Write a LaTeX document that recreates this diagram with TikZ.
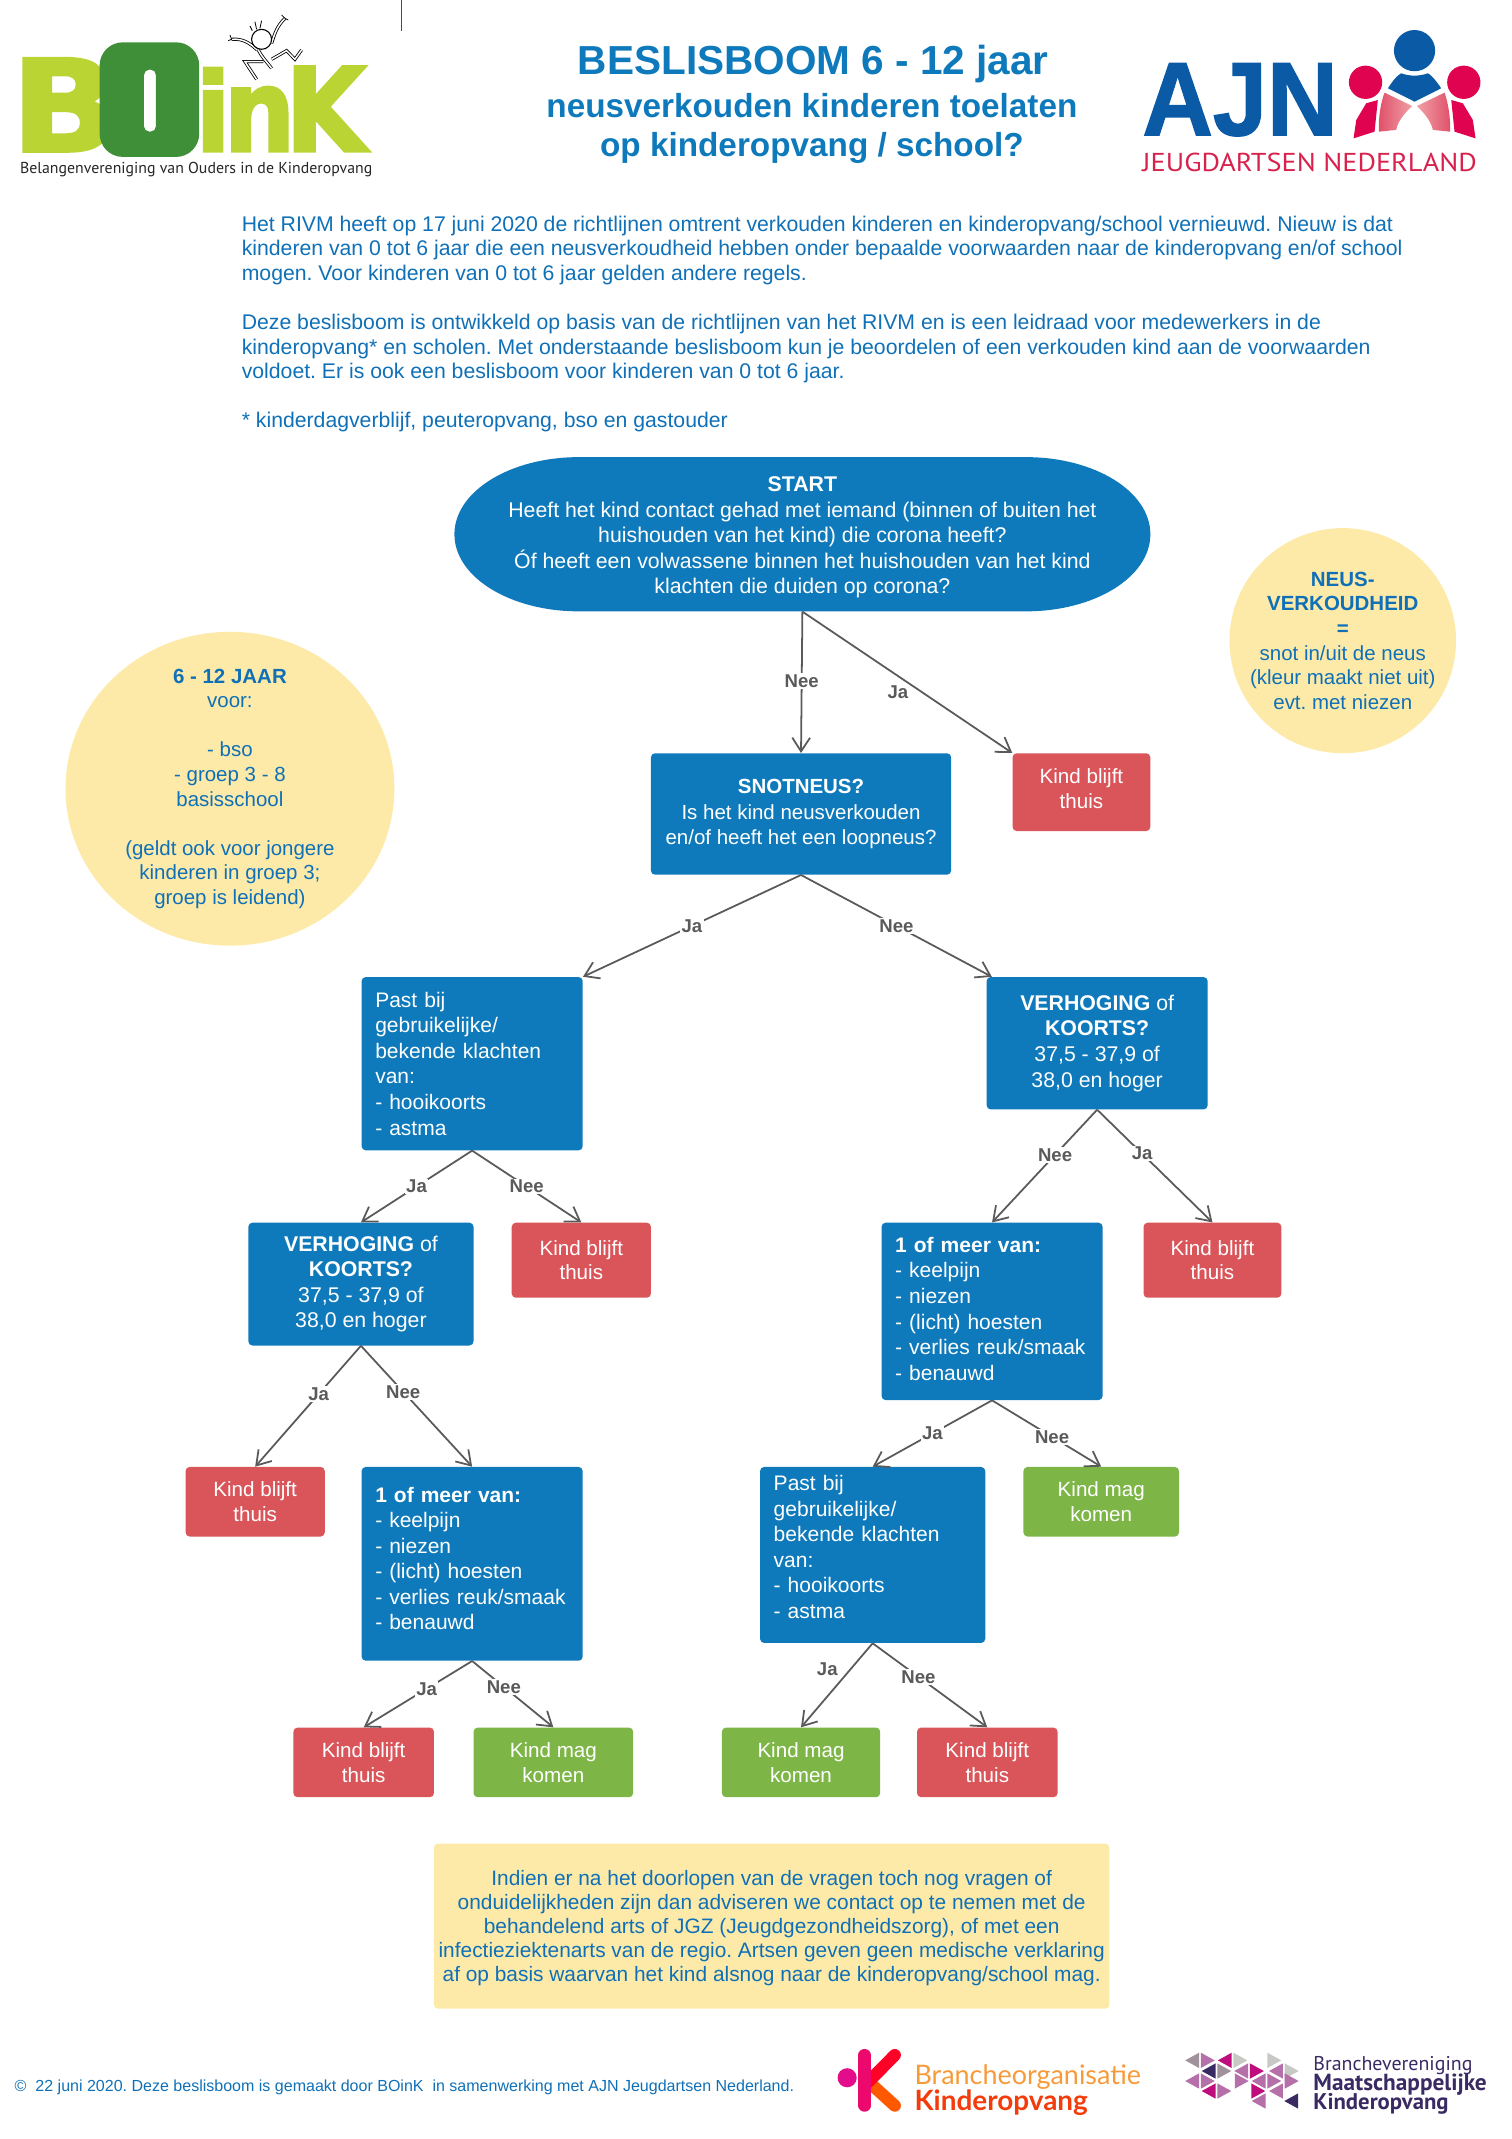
\documentclass[tikz,border=0pt]{standalone}
\usepackage{fontspec}
\usepackage{graphicx}
\setmainfont{Liberation Sans}
\newfontfamily\logofont[BoldFeatures={FakeBold=2.5}]{DejaVu Sans}
\newfontfamily\ajnfont[BoldFeatures={FakeBold=1.5}]{Liberation Sans}
\newfontfamily\brandfont{Lato}
\newfontfamily\dinfont{PT Sans}
\usetikzlibrary{arrows.meta,shapes.geometric}
\definecolor{boomblue}{HTML}{0E7ABB}
\definecolor{inkblue}{HTML}{0F70B7}
\definecolor{thuisred}{HTML}{D9555A}
\definecolor{komengreen}{HTML}{7DB646}
\definecolor{notecream}{HTML}{FDEAA8}
\definecolor{edgegrey}{HTML}{5A5A5A}
\definecolor{limegreen}{HTML}{B9D433}
\definecolor{darkgreen}{HTML}{3F8F38}
\definecolor{ajnblue}{HTML}{0B5AA6}
\definecolor{ajnred}{HTML}{E0034F}
\definecolor{ajntext}{HTML}{D8224E}
\definecolor{ajnpink}{HTML}{F0A0A5}
\definecolor{ajnrose}{HTML}{E0506A}
\definecolor{brandorange}{HTML}{F79A3A}
\definecolor{brandred}{HTML}{F23C0C}
\definecolor{triGrey}{HTML}{A0929C}
\definecolor{triMauve}{HTML}{B56FA9}
\definecolor{triMagenta}{HTML}{BF0D7D}
\definecolor{triLight}{HTML}{C8C8C4}
\definecolor{triNavy}{HTML}{3A2A63}
\tikzstyle{body} = [font=\fontsize{15.55}{18}\selectfont,text=inkblue,inner sep=0pt]
\tikzstyle{vraag} = [draw=none,fill=boomblue,rounded corners=3pt,text=white,align=center,inner sep=0pt,font=\fontsize{15.6}{18.7}\selectfont]
\tikzstyle{lijst} = [vraag,align=left,inner xsep=10pt,font=\fontsize{15.4}{18.7}\selectfont]
\tikzstyle{thuis} = [vraag,fill=thuisred,font=\fontsize{15.1}{18}\selectfont]
\tikzstyle{komen} = [vraag,fill=komengreen,font=\fontsize{15.1}{18}\selectfont]
\tikzstyle{bubble} = [ellipse,fill=notecream,text=inkblue,align=center,inner sep=-30pt,font=\fontsize{15}{18}\selectfont]
\tikzstyle{edge} = [draw=edgegrey,line width=1.3pt,-{Straight Barb[length=10pt,width=13pt]}]
\tikzstyle{weight} = [font=\fontsize{13.6}{15}\bfseries\selectfont,text=edgegrey,fill=white,inner sep=1pt]
\tikzstyle{limb} = [draw=black,line width=.6pt,double=white,double distance=1.1pt]
\frenchspacing
\begin{document}
\begin{tikzpicture}[x=1pt,y=-1pt]
	\useasboundingbox (0,0) rectangle (1108,1567.5);
	\draw[black!70,line width=.7pt] (294,0) -- (294,22.5);

	% Header
	\node[font=\fontsize{29.7}{32}\bfseries\selectfont,text=boomblue] (title) at (596,47) {BESLISBOOM 6 - 12 jaar};
	\node[font=\fontsize{24.4}{29}\bfseries\selectfont,text=boomblue,align=center] (subtitle) at (595,94) {neusverkouden kinderen toelaten\\op kinderopvang / school?};

	% Introduction
	\node[body,anchor=north west,align=left] (intro) at (177,158) {Het RIVM heeft op 17 juni 2020 de richtlijnen omtrent verkouden kinderen en kinderopvang/school vernieuwd. Nieuw is dat\\
	kinderen van 0 tot 6 jaar die een neusverkoudheid hebben onder bepaalde voorwaarden naar de kinderopvang en/of school\\
	mogen. Voor kinderen van 0 tot 6 jaar gelden andere regels.\\[18pt]
	Deze beslisboom is ontwikkeld op basis van de richtlijnen van het RIVM en is een leidraad voor medewerkers in de\\
	kinderopvang* en scholen. Met onderstaande beslisboom kun je beoordelen of een verkouden kind aan de voorwaarden\\
	voldoet. Er is ook een beslisboom voor kinderen van 0 tot 6 jaar.\\[18pt]
	* kinderdagverblijf, peuteropvang, bso en gastouder};

	% Side notes
	\node[bubble,minimum width=241pt,minimum height=230pt] (leeftijd) at (168.5,578) {\textbf{6 - 12 JAAR}\\voor:\\[18pt]- bso\\- groep 3 - 8\\basisschool\\[18pt](geldt ook voor jongere\\kinderen in groep 3;\\groep is leidend)};
	\node[bubble,minimum width=166pt,minimum height=165pt] (neus) at (984,469.5) {\textbf{NEUS-}\\\textbf{VERKOUDHEID}\\\textbf{=}\\snot in/uit de neus\\(kleur maakt niet uit)\\evt. met niezen};

	% First the question boxes
	\fill[boomblue] (424,335) -- (752,335) .. controls (802,335) and (843,360) .. (843,391.5) .. controls (843,423) and (802,448) .. (752,448) -- (424,448) .. controls (374,448) and (333,423) .. (333,391.5) .. controls (333,360) and (374,335) .. (424,335) -- cycle;
	\node[vraag,fill=none,minimum width=510pt,minimum height=113pt] (start) at (588,391.5) {\rule{0pt}{16pt}\textbf{START}\\Heeft het kind contact gehad met iemand (binnen of buiten het\\huishouden van het kind) die corona heeft?\\Óf heeft een volwassene binnen het huishouden van het kind\\klachten die duiden op corona?};
	\node[vraag,minimum width=220pt,minimum height=89pt,font=\fontsize{15}{18.4}\selectfont] (snot) at (587,596.5) {\textbf{SNOTNEUS?}\\Is het kind neusverkouden\\en/of heeft het een loopneus?};
	\node[vraag,minimum width=162pt,minimum height=97pt] (koortsR) at (804,764.5) {\textbf{VERHOGING} of\\\textbf{KOORTS?}\\37,5 - 37,9 of\\38,0 en hoger};
	\node[vraag,minimum width=165pt,minimum height=90pt] (koortsL) at (264.5,941) {\textbf{VERHOGING} of\\\textbf{KOORTS?}\\37,5 - 37,9 of\\38,0 en hoger};
	\node[lijst,text width=142pt,minimum height=127pt] (pastL) at (346,779.5) {Past bij\\gebruikelijke/\\bekende klachten\\van:\\- hooikoorts\\- astma};
	\node[lijst,text width=145pt,minimum height=129pt] (pastR) at (639.5,1139.5) {Past bij\\gebruikelijke/\\bekende klachten\\van:\\- hooikoorts\\- astma\\[-6.7pt]\mbox{}};
	\node[lijst,text width=142pt,minimum height=130pt] (meerR) at (727,961) {\textbf{1 of meer van:}\\- keelpijn\\- niezen\\- (licht) hoesten\\- verlies reuk/smaak\\- benauwd\\[-14.7pt]\mbox{}};
	\node[lijst,text width=142pt,minimum height=142pt] (meerL) at (346,1146) {\textbf{1 of meer van:}\\- keelpijn\\- niezen\\- (licht) hoesten\\- verlies reuk/smaak\\- benauwd\\[-10.7pt]\mbox{}};

	% Then the outcomes
	\node[thuis,minimum width=101pt,minimum height=57pt] (thuisA) at (792.5,580.5) {Kind blijft\\thuis\\[-13pt]\mbox{}};
	\foreach \pos/\name/\w/\h in {{(426,923.5)/thuisB/102/55}, {(888.5,923.5)/thuisC/101/55},
								{(187,1100.5)/thuisD/102/51}, {(266.5,1291.5)/thuisE/103/51}, {(723.5,1291.5)/thuisF/103/51}}
	\node[thuis,minimum width=\w pt,minimum height=\h pt] (\name) at \pos {Kind blijft\\thuis};
	\foreach \pos/\name/\w/\h in {{(807,1100.5)/komenA/114/51}, {(405.5,1291.5)/komenB/117/51}, {(587,1291.5)/komenC/116/51}}
	\node[komen,minimum width=\w pt,minimum height=\h pt] (\name) at \pos {Kind mag\\komen};
	\coordinate (koortsTip) at ([xshift=4pt]koortsR.north west);

	% Connect the boxes and put the answers on the edges
	\foreach \source/\dest/\weight/\where in {start.south/snot.north/Nee/.49, snot.south/pastL.north east/Ja/.5, snot.south/koortsTip/Nee/.5,
								pastL.south/koortsL.north/Ja/.5, pastL.south/thuisB.north/Nee/.5, koortsR.south/meerR.north/Nee/.4, koortsR.south/thuisC.north/Ja/.39,
								koortsL.south/thuisD.north/Ja/.4, koortsL.south/meerL.north/Nee/.38, meerR.south/pastR.north/Ja/.5, meerR.south/komenA.north/Nee/.55,
								meerL.south/thuisE.north/Ja/.42, meerL.south/komenB.north/Nee/.39, pastR.south/thuisF.north/Nee/.4}
	\path[edge] (\source) -- node[weight,pos=\where] {\weight} (\dest);

	\foreach \source/\dest/\where in {start.south/thuisA.north west/.567, pastR.south/komenC.north/.306}
	\path[edge] (\source) -- node[weight,fill=none,pos=\where,left=8pt] {Ja} (\dest);

	% Closing note and footer
	\node[vraag,fill=notecream,text=inkblue,minimum width=495pt,minimum height=121pt,font=\fontsize{15.3}{17.6}\selectfont] (note) at (565.5,1411.5) {\rule{0pt}{13.5pt}Indien er na het doorlopen van de vragen toch nog vragen of\\onduidelijkheden zijn dan adviseren we contact op te nemen met de\\behandelend arts of JGZ (Jeugdgezondheidszorg), of met een\\infectieziektenarts van de regio. Artsen geven geen medische verklaring\\af op basis waarvan het kind alsnog naar de kinderopvang/school mag.};
	\node[body,anchor=west,font=\fontsize{11.74}{14}\selectfont] (footer) at (10.6,1529.5) {©\ \ 22 juni 2020. Deze beslisboom is gemaakt door BOinK\ \ in samenwerking met AJN Jeugdartsen Nederland.};

	% BOinK logo
	\node[anchor=south west,inner sep=0pt,text=limegreen] (logoB) at (8,111) {\resizebox{78pt}{68pt}{\logofont\bfseries B}};
	\node[anchor=south west,inner sep=0pt,text=limegreen] (logoI) at (143,111) {\resizebox{26pt}{61pt}{\logofont\bfseries i}};
	\node[anchor=south west,inner sep=0pt,text=limegreen] (logoN) at (164,111) {\resizebox{52pt}{47pt}{\logofont\bfseries n}};
	\node[anchor=south west,inner sep=0pt,text=limegreen] (logoK) at (209,111) {\resizebox{59pt}{62pt}{\logofont\bfseries K}};
	\fill[darkgreen,even odd rule,rounded corners=17pt] (73,31) rectangle (146,115) [rounded corners=4pt] (105.5,51) rectangle (114.3,96.5);
	\node[anchor=west,inner sep=0pt,text=black!85] (logoText) at (14.6,124.5) {\resizebox{258pt}{!}{\dinfont Belangenvereniging van Ouders in de Kinderopvang}};
	\begin{scope}[x=.2442pt,y=-.2442pt]
		\draw[limb] (772,150) .. controls (750,130) and (730,115) .. (695,118);
		\draw[limb] (815,130) .. controls (825,100) and (830,80) .. (855,55);
		\draw[limb] (775,150) .. controls (785,170) and (800,185) .. (815,205);
		\draw[limb] (790,185) -- (735,185) -- (770,238);
		\draw[limb] (815,178) -- (860,152) -- (885,178) -- (905,150);
		\draw[black,line width=.8pt,fill=white] (785,118) circle [radius=30];
		\draw[black,line width=.6pt] (770,88) -- (765,65) (780,85) -- (785,62) (757,92) -- (750,78) (695,118) -- (685,122) (695,118) -- (690,105) (855,55) -- (865,60) (855,55) -- (845,45);
	\end{scope}

	% AJN logo
	\node[anchor=south west,inner sep=0pt,text=ajnblue] (logoAJN) at (837,100) {\resizebox{143pt}{52.5pt}{\ajnfont\bfseries AJN}};
	\node[anchor=west,inner sep=0pt,text=ajntext] (logoJeugd) at (837,119) {\resizebox{245pt}{13.5pt}{\dinfont JEUGDARTSEN NEDERLAND}};
	\fill[ajnblue] (1036.6,37.1) circle [radius=15.1];
	\fill[ajnred] (1000.7,60.3) circle [radius=12.2] (1072.7,60.3) circle [radius=12.2];
	\fill[ajnblue] (1017.1,64.7) .. controls (1020,60) and (1024,55) .. (1026.8,53.7) .. controls (1033,56) and (1040,56) .. (1046.4,53.7) .. controls (1049,55) and (1053,60) .. (1056.1,64.7) -- (1036.6,74.5) -- cycle;
	\shade[left color=ajnrose,right color=ajnpink] (1014.6,67.9) -- (1034.9,77.7) .. controls (1028,84) and (1024,90) .. (1023.2,95.2) -- (1010.5,96.5) .. controls (1010,85) and (1012,75) .. (1014.6,67.9) -- cycle;
	\shade[left color=ajnpink,right color=ajnrose] (1058.6,67.9) -- (1038.3,77.7) .. controls (1045,84) and (1049,90) .. (1050,95.2) -- (1062.7,96.5) .. controls (1063,85) and (1061,75) .. (1058.6,67.9) -- cycle;
	\fill[ajnred] (1009.7,73.3) -- (1007.3,96.5) -- (991.9,101.4) -- (993.9,87.9) -- (1001.2,75.7) -- cycle;
	\fill[ajnred] (1063.5,73.3) -- (1065.9,96.5) -- (1081.3,101.4) -- (1079.3,87.9) -- (1072,75.7) -- cycle;

	% Brancheorganisatie logo
	\fill[magenta!90!violet] (620.8,1522.6) circle [radius=7];
	\draw[line width=9pt,line cap=round,color=orange!70!red] (637,1526) -- (655.7,1543);
	\draw[line width=9pt,line cap=round,color=red!85!magenta] (636,1526) -- (655.7,1506);
	\draw[line width=9pt,line cap=round,color=magenta!70!red] (633.6,1506) -- (633.6,1543);
	\node[anchor=west,inner sep=0pt,text=brandorange] (logoBranche) at (670,1522) {\resizebox{166pt}{!}{\brandfont Brancheorganisatie}};
	\node[anchor=west,inner sep=0pt,text=brandred] (logoKinder) at (670,1541) {\resizebox{127pt}{!}{\brandfont\bfseries Kinderopvang}};

	% Maatschappelijke Kinderopvang logo
	\begin{scope}[shift={(608,1501.8)},x=.3185pt,y=-.2442pt]
		\foreach \cx/\cy/\side/\col in {852/33/-1/triGrey, 852/33/1/triMauve, 927/33/-1/triMagenta, 927/33/1/triLight, 1005/33/1/triLight,
								890/65/-1/triNavy, 890/65/1/triGrey, 965/65/-1/triMauve, 965/65/1/triMagenta, 1045/65/-1/triMauve, 1045/65/1/triLight,
								852/95/-1/triMauve, 852/95/1/triMauve, 930/95/1/triMauve, 1005/95/-1/triMauve, 1005/95/1/triMauve, 1045/95/1/triMauve,
								890/125/-1/triMagenta, 890/125/1/triMauve, 968/125/1/triMagenta, 1045/125/-1/triMauve,
								1005/155/-1/triMauve, 1080/155/-1/triNavy}
		\fill[\col] ({\cx+\side*2},{\cy-23}) -- ({\cx+\side*34},\cy) -- ({\cx+\side*2},{\cy+23}) -- cycle;
	\end{scope}
	\node[anchor=west,inner sep=0pt,text=triNavy] (logoVer) at (962.3,1513.5) {\resizebox{116.5pt}{!}{\dinfont Branchevereniging}};
	\node[anchor=west,inner sep=0pt,text=triNavy] (logoMaat) at (962.3,1527.5) {\resizebox{127pt}{!}{\dinfont\bfseries Maatschappelijke}};
	\node[anchor=west,inner sep=0pt,text=triNavy] (logoOpvang) at (962.3,1542) {\resizebox{99pt}{!}{\dinfont\bfseries Kinderopvang}};
\end{tikzpicture}
\end{document}
